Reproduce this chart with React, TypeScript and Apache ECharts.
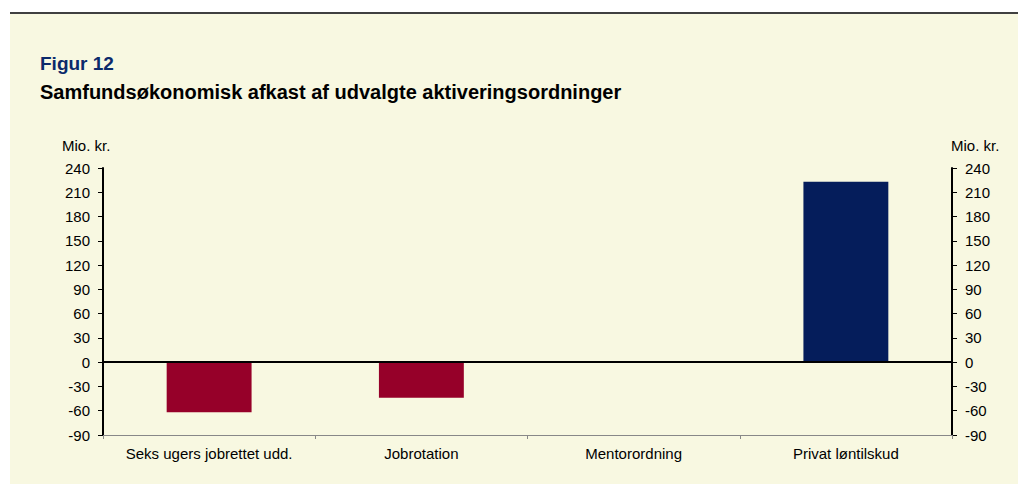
import React, { useEffect, useRef } from "react";
import * as echarts from "echarts";

const categories = ["Seks ugers jobrettet udd.", "Jobrotation", "Mentorordning", "Privat løntilskud"];
const values = [-62, -44, 0, 223];
const yTicksMin = -90;
const yTicksMax = 240;
const yInterval = 30;
const NEG = "#960029";
const POS = "#051D5B";

export default function App() {
  const ref = useRef<HTMLDivElement>(null);
  useEffect(() => {
    const chart = echarts.init(ref.current!, null, { renderer: "svg" });
    const font = "'Liberation Sans', Arial, sans-serif";
    const yAxisCommon = {
      type: "value" as const,
      min: yTicksMin,
      max: yTicksMax,
      interval: yInterval,
      splitLine: { show: false },
      axisLine: { show: true, onZero: false, lineStyle: { color: "#000", width: 2 } },
      axisTick: { show: true, length: 5, lineStyle: { color: "#000", width: 1 } },
      axisLabel: { color: "#000", fontSize: 15, fontFamily: font, margin: 13 },
    };
    chart.setOption({
      animation: false,
      backgroundColor: "#fff",
      graphic: [
        { type: "rect", shape: { x: 10, y: 14, width: 1008, height: 470 }, style: { fill: "#F8F8E1" }, z: -10 },
        { type: "line", shape: { x1: 10, y1: 13, x2: 1018, y2: 13 }, style: { stroke: "#000", lineWidth: 1.5 } },
        { type: "text", x: 40, y: 63, style: { text: "Figur 12", font: "bold 19px " + font, fill: "#0B2A6B", verticalAlign: "middle" } },
        { type: "text", x: 40, y: 92, style: { text: "Samfundsøkonomisk afkast af udvalgte aktiveringsordninger", font: "bold 20px " + font, fill: "#000", verticalAlign: "middle" } },
        { type: "text", x: 62, y: 145, style: { text: "Mio. kr.", font: "15px " + font, fill: "#000", verticalAlign: "middle" } },
        { type: "text", x: 951, y: 145, style: { text: "Mio. kr.", font: "15px " + font, fill: "#000", verticalAlign: "middle" } },
      ],
      grid: { left: 103, right: 66, top: 168, bottom: 49, containLabel: false },
      xAxis: {
        type: "category",
        data: categories,
        position: "bottom",
        axisLine: { onZero: false, lineStyle: { color: "#888", width: 1 } },
        axisTick: { show: true, length: 4, interval: 0, lineStyle: { color: "#888" } },
        axisLabel: { color: "#000", fontSize: 15, fontFamily: font, margin: 11, interval: 0 },
        splitLine: { show: false },
      },
      yAxis: [
        { ...yAxisCommon, position: "left" },
        { ...yAxisCommon, position: "right" },
      ],
      series: [
        {
          type: "bar",
          data: values.map((v) => ({ value: v, itemStyle: { color: v < 0 ? NEG : POS } })),
          barWidth: "40%",
          yAxisIndex: 0,
          markLine: {
            silent: true,
            symbol: "none",
            label: { show: false },
            lineStyle: { color: "#000", width: 2, type: "solid" },
            data: [{ yAxis: 0 }],
          },
        },
      ],
    });
    return () => chart.dispose();
  }, []);
  return <div ref={ref} style={{ position: "fixed", left: 0, top: 0, width: 1018, height: 484 }} />;
}
